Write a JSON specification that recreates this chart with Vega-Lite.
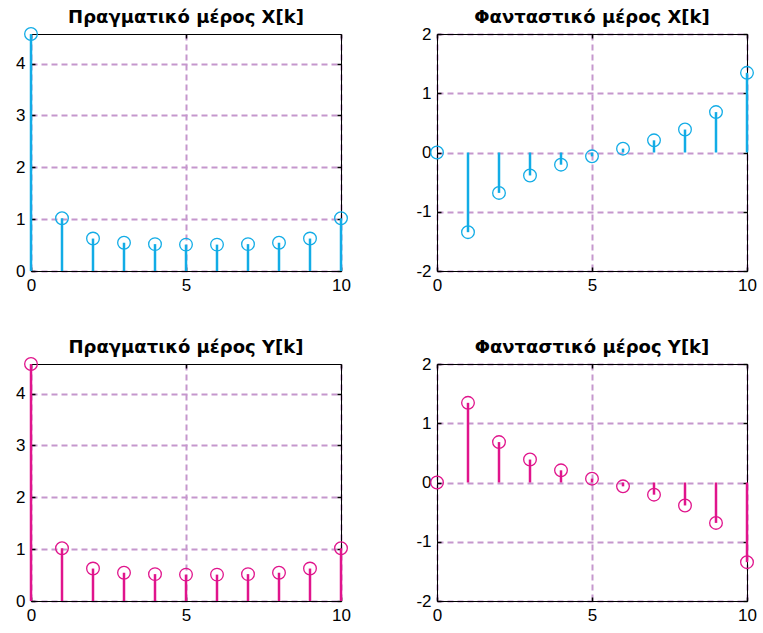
{
  "$schema": "https://vega.github.io/schema/vega-lite/v6.json",
  "padding": {"left": 15, "top": 9, "right": 5, "bottom": 5},
  "background": "white",
  "datasets": {
    "X": [
      {"k": 0, "re": 4.5705, "im": 0},
      {"k": 1, "re": 1.0167, "im": -1.3448},
      {"k": 2, "re": 0.6257, "im": -0.682},
      {"k": 3, "re": 0.5451, "im": -0.3875},
      {"k": 4, "re": 0.5182, "im": -0.2056},
      {"k": 5, "re": 0.5088, "im": -0.0649},
      {"k": 6, "re": 0.5088, "im": 0.0649},
      {"k": 7, "re": 0.5182, "im": 0.2056},
      {"k": 8, "re": 0.5451, "im": 0.3875},
      {"k": 9, "re": 0.6257, "im": 0.682},
      {"k": 10, "re": 1.0167, "im": 1.3448}
    ],
    "Y": [
      {"k": 0, "re": 4.5705, "im": 0},
      {"k": 1, "re": 1.0167, "im": 1.3448},
      {"k": 2, "re": 0.6257, "im": 0.682},
      {"k": 3, "re": 0.5451, "im": 0.3875},
      {"k": 4, "re": 0.5182, "im": 0.2056},
      {"k": 5, "re": 0.5088, "im": 0.0649},
      {"k": 6, "re": 0.5088, "im": -0.0649},
      {"k": 7, "re": 0.5182, "im": -0.2056},
      {"k": 8, "re": 0.5451, "im": -0.3875},
      {"k": 9, "re": 0.6257, "im": -0.682},
      {"k": 10, "re": 1.0167, "im": -1.3448}
    ]
  },
  "columns": 2,
  "bounds": "flush",
  "spacing": {"row": 93, "column": 96},
  "concat": [
    {
      "title": {"text": "Πραγματικό μέρος X[k]"},
      "width": 310, "height": 237,
      "data": {"name": "X"},
      "layer": [
        {
          "mark": {"type": "rule", "color": "#12acE6", "strokeWidth": 2.5},
          "encoding": {
            "x": {"field": "k", "type": "quantitative", "scale": {"domain": [0, 10], "nice": false}, "axis": {"orient": "bottom", "values": [0, 5, 10], "grid": true}},
            "y": {"field": "re", "type": "quantitative", "scale": {"domain": [0, 4.5705], "nice": false, "zero": false}, "axis": {"orient": "left", "values": [0, 1, 2, 3, 4], "grid": true, "labelExpr": "'' + datum.value"}},
            "y2": {"datum": 0}
          }
        },
        {
          "mark": {"type": "point", "shape": "circle", "filled": false, "size": 160, "strokeWidth": 1.3, "color": "#12acE6", "opacity": 1},
          "encoding": {
            "x": {"field": "k", "type": "quantitative", "axis": {"orient": "top", "values": [0, 5, 10], "labels": false, "grid": false}},
            "y": {"field": "re", "type": "quantitative", "axis": {"orient": "right", "values": [0, 1, 2, 3, 4], "labels": false, "grid": false}}
          }
        }
      ],
      "resolve": {"axis": {"x": "independent", "y": "independent"}}
    },
    {
      "title": {"text": "Φανταστικό μέρος X[k]"},
      "width": 310, "height": 237,
      "data": {"name": "X"},
      "layer": [
        {
          "mark": {"type": "rule", "color": "#12acE6", "strokeWidth": 2.5},
          "encoding": {
            "x": {"field": "k", "type": "quantitative", "scale": {"domain": [0, 10], "nice": false}, "axis": {"orient": "bottom", "values": [0, 5, 10], "grid": true}},
            "y": {"field": "im", "type": "quantitative", "scale": {"domain": [-2, 2], "nice": false}, "axis": {"orient": "left", "values": [-2, -1, 0, 1, 2], "grid": true, "labelExpr": "'' + datum.value"}},
            "y2": {"datum": 0}
          }
        },
        {
          "mark": {"type": "point", "shape": "circle", "filled": false, "size": 160, "strokeWidth": 1.3, "color": "#12acE6", "opacity": 1},
          "encoding": {
            "x": {"field": "k", "type": "quantitative", "axis": {"orient": "top", "values": [0, 5, 10], "labels": false, "grid": false}},
            "y": {"field": "im", "type": "quantitative", "axis": {"orient": "right", "values": [-2, -1, 0, 1, 2], "labels": false, "grid": false}}
          }
        }
      ],
      "resolve": {"axis": {"x": "independent", "y": "independent"}}
    },
    {
      "title": {"text": "Πραγματικό μέρος Y[k]"},
      "width": 310, "height": 237,
      "data": {"name": "Y"},
      "layer": [
        {
          "mark": {"type": "rule", "color": "#e0148c", "strokeWidth": 2.5},
          "encoding": {
            "x": {"field": "k", "type": "quantitative", "scale": {"domain": [0, 10], "nice": false}, "axis": {"orient": "bottom", "values": [0, 5, 10], "grid": true}},
            "y": {"field": "re", "type": "quantitative", "scale": {"domain": [0, 4.5705], "nice": false, "zero": false}, "axis": {"orient": "left", "values": [0, 1, 2, 3, 4], "grid": true, "labelExpr": "'' + datum.value"}},
            "y2": {"datum": 0}
          }
        },
        {
          "mark": {"type": "point", "shape": "circle", "filled": false, "size": 160, "strokeWidth": 1.3, "color": "#e0148c", "opacity": 1},
          "encoding": {
            "x": {"field": "k", "type": "quantitative", "axis": {"orient": "top", "values": [0, 5, 10], "labels": false, "grid": false}},
            "y": {"field": "re", "type": "quantitative", "axis": {"orient": "right", "values": [0, 1, 2, 3, 4], "labels": false, "grid": false}}
          }
        }
      ],
      "resolve": {"axis": {"x": "independent", "y": "independent"}}
    },
    {
      "title": {"text": "Φανταστικό μέρος Y[k]"},
      "width": 310, "height": 237,
      "data": {"name": "Y"},
      "layer": [
        {
          "mark": {"type": "rule", "color": "#e0148c", "strokeWidth": 2.5},
          "encoding": {
            "x": {"field": "k", "type": "quantitative", "scale": {"domain": [0, 10], "nice": false}, "axis": {"orient": "bottom", "values": [0, 5, 10], "grid": true}},
            "y": {"field": "im", "type": "quantitative", "scale": {"domain": [-2, 2], "nice": false}, "axis": {"orient": "left", "values": [-2, -1, 0, 1, 2], "grid": true, "labelExpr": "'' + datum.value"}},
            "y2": {"datum": 0}
          }
        },
        {
          "mark": {"type": "point", "shape": "circle", "filled": false, "size": 160, "strokeWidth": 1.3, "color": "#e0148c", "opacity": 1},
          "encoding": {
            "x": {"field": "k", "type": "quantitative", "axis": {"orient": "top", "values": [0, 5, 10], "labels": false, "grid": false}},
            "y": {"field": "im", "type": "quantitative", "axis": {"orient": "right", "values": [-2, -1, 0, 1, 2], "labels": false, "grid": false}}
          }
        }
      ],
      "resolve": {"axis": {"x": "independent", "y": "independent"}}
    }
  ],
  "config": {
    "view": {"stroke": null},
    "title": {"font": "DejaVu Sans", "fontSize": 18, "fontWeight": "bold", "color": "black", "anchor": "middle", "offset": -2},
    "axis": {
      "title": null,
      "labelFont": "Liberation Sans",
      "labelFontSize": 17,
      "labelColor": "black",
      "domainColor": "black",
      "domainWidth": 1,
      "tickColor": "black",
      "tickSize": -4,
      "tickWidth": 1.5,
      "labelPadding": 10,
      "gridColor": "#c597cd",
      "gridDash": [6, 4],
      "gridWidth": 2,
      "gridOpacity": 1,
      "labelFlush": false,
      "labelOverlap": false
    }
  }
}
